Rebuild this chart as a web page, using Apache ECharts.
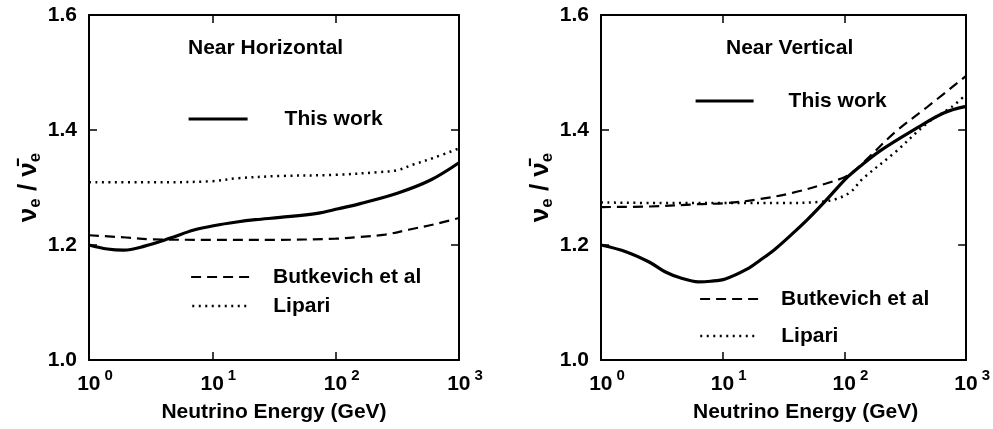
<!DOCTYPE html>
<html>
<head>
<meta charset="utf-8">
<script src="https://cdn.jsdelivr.net/npm/echarts@6/dist/echarts.min.js"></script>
<style>
html,body{margin:0;padding:0;background:#fff;}
#chart{width:993px;height:429px;}
</style>
</head>
<body>
<div id="chart"></div>
<script>
// ---- Data (energy in GeV, ratio nu_e / anti-nu_e) ----
const panelTitles = ['Near Horizontal', 'Near Vertical'];
const seriesNames = ['This work', 'Butkevich et al', 'Lipari'];
const yTicks = [1.0, 1.2, 1.4, 1.6];
const xTickExponents = [0, 1, 2, 3];

// Near Horizontal
const hThisE = [1, 1.41, 1.91, 2.82, 4.57, 7.08, 10.5, 15.8, 22.4, 35.5, 70.8, 105, 158, 316, 589, 1000];
const hThisR = [1.200, 1.193, 1.191, 1.198, 1.212, 1.226, 1.234, 1.240, 1.244, 1.248, 1.255, 1.263, 1.272, 1.290, 1.313, 1.343];
const hButE = [1, 2.0, 3.16, 10, 31.6, 100, 158, 251, 398, 631, 1000];
const hButR = [1.217, 1.213, 1.210, 1.209, 1.209, 1.211, 1.214, 1.218, 1.227, 1.236, 1.247];
const hLipE = [1, 3.16, 10, 15.8, 35.5, 100, 229, 316, 427, 631, 1000];
const hLipR = [1.309, 1.309, 1.311, 1.316, 1.320, 1.322, 1.327, 1.330, 1.340, 1.352, 1.368];

// Near Vertical
const vThisE = [1, 1.62, 2.51, 3.39, 4.47, 6.31, 7.94, 10.5, 15.8, 20.4, 26.3, 38.0, 50.1, 70.8, 100, 117, 191, 398, 661, 1000];
const vThisR = [1.200, 1.188, 1.170, 1.153, 1.143, 1.136, 1.137, 1.141, 1.158, 1.174, 1.191, 1.221, 1.245, 1.278, 1.313, 1.326, 1.362, 1.404, 1.430, 1.441];
const vButE = [1, 2.51, 6.31, 11.0, 20.4, 38.0, 70.8, 100, 117, 141, 263, 479, 1000];
const vButR = [1.266, 1.267, 1.271, 1.273, 1.280, 1.291, 1.307, 1.318, 1.327, 1.342, 1.397, 1.440, 1.494];
const vLipE = [1, 3.16, 10, 31.6, 63.1, 85.1, 112, 141, 263, 479, 759, 1000];
const vLipR = [1.274, 1.273, 1.273, 1.273, 1.275, 1.280, 1.292, 1.315, 1.362, 1.412, 1.440, 1.462];

function pairs(e, r) { return e.map((x, i) => [x, r[i]]); }

const FONT = '"Liberation Sans", Arial, Helvetica, sans-serif';
const BLACK = '#000';

const grids = [
  { left: 89, top: 15, width: 370, height: 345 },
  { left: 601, top: 15, width: 371, height: 345 }
];

function xAxisMain(g, nameShift) {
  return {
    type: 'log', logBase: 10, min: 1, max: 1000, gridIndex: g, position: 'bottom',
    axisLine: { show: true, lineStyle: { color: BLACK, width: 2 } },
    axisTick: { show: true, inside: true, length: 8, lineStyle: { color: BLACK, width: 1.5 } },
    minorTick: { show: false },
    splitLine: { show: false },
    axisLabel: {
      margin: 8,
      formatter: function (v) {
        const ex = Math.round(Math.log10(v));
        return '{p| }{b|10}{s|' + ex + '}';
      },
      rich: {
        p: { width: 12, fontSize: 14 },
        b: { fontSize: 21, fontWeight: 'bold', fontFamily: FONT, color: BLACK, lineHeight: 32 },
        s: { fontSize: 15, fontWeight: 'bold', fontFamily: FONT, color: BLACK, lineHeight: 15, verticalAlign: 'top', padding: [0, 0, 0, 4] }
      }
    },
    name: 'Neutrino Energy (GeV)',
    nameLocation: 'middle',
    nameGap: 42,
    nameTextStyle: { fontSize: 21, fontWeight: 'bold', fontFamily: FONT, color: BLACK, padding: [0, 0, 0, nameShift] }
  };
}
function xAxisTop(g) {
  return {
    type: 'log', logBase: 10, min: 1, max: 1000, gridIndex: g, position: 'top',
    axisLine: { show: true, lineStyle: { color: BLACK, width: 2 } },
    axisTick: { show: true, inside: true, length: 8, lineStyle: { color: BLACK, width: 1.5 } },
    axisLabel: { show: false }, splitLine: { show: false }
  };
}
function yAxisMain(g) {
  return {
    type: 'value', min: yTicks[0], max: yTicks[yTicks.length - 1], interval: 0.2, gridIndex: g, position: 'left',
    axisLine: { show: true, lineStyle: { color: BLACK, width: 2 } },
    axisTick: { show: true, inside: true, length: 8, lineStyle: { color: BLACK, width: 1.5 } },
    splitLine: { show: false },
    axisLabel: {
      margin: 12, fontSize: 21, fontWeight: 'bold', fontFamily: FONT, color: BLACK,
      formatter: v => v.toFixed(1)
    },
    name: '{v|ν}{e|e}{v| / }{v|ν̄}{e|e}',
    nameLocation: 'middle',
    nameGap: 44,
    nameRotate: 90,
    nameTextStyle: {
      rich: {
        v: { fontSize: 26, fontWeight: 'bold', fontFamily: FONT, color: BLACK, lineHeight: 30 },
        e: { fontSize: 17, fontWeight: 'bold', fontFamily: FONT, color: BLACK, lineHeight: 17, verticalAlign: 'bottom' }
      }
    }
  };
}
function yAxisRight(g) {
  return {
    type: 'value', min: yTicks[0], max: yTicks[yTicks.length - 1], interval: 0.2, gridIndex: g, position: 'right',
    axisLine: { show: true, lineStyle: { color: BLACK, width: 2 } },
    axisTick: { show: true, inside: true, length: 8, lineStyle: { color: BLACK, width: 1.5 } },
    axisLabel: { show: false }, splitLine: { show: false }
  };
}

const styles = [
  { width: 3.2, type: 'solid' },
  { width: 2.2, type: [10, 6] },
  { width: 2.5, type: [2, 4.5] }
];

function mkSeries(name, data, xi, yi, st) {
  return {
    type: 'line', name: name, data: data, xAxisIndex: xi, yAxisIndex: yi,
    symbol: 'none', showSymbol: false, smooth: 0.35,
    lineStyle: { color: BLACK, width: st.width, type: st.type },
    itemStyle: { color: BLACK },
    silent: true, animation: false
  };
}

const series = [
  mkSeries(seriesNames[0], pairs(hThisE, hThisR), 0, 0, styles[0]),
  mkSeries(seriesNames[1], pairs(hButE, hButR), 0, 0, styles[1]),
  mkSeries(seriesNames[2], pairs(hLipE, hLipR), 0, 0, styles[2]),
  mkSeries(seriesNames[0], pairs(vThisE, vThisR), 1, 1, styles[0]),
  mkSeries(seriesNames[1], pairs(vButE, vButR), 1, 1, styles[1]),
  mkSeries(seriesNames[2], pairs(vLipE, vLipR), 1, 1, styles[2])
];

function mkLegend(idx, left, top, w, gap) {
  return {
    show: true,
    data: [seriesNames[idx]], left: left, top: top, padding: 0,
    itemWidth: w, itemHeight: 20, selectedMode: false,
    lineStyle: { color: BLACK, width: styles[idx].width, type: styles[idx].type },
    itemStyle: { opacity: 0 },
    textStyle: { fontSize: 21, fontWeight: 'bold', fontFamily: FONT, color: BLACK, padding: [0, 0, 0, gap], lineHeight: 24 }
  };
}

const option = {
  animation: false,
  backgroundColor: '#fff',
  title: [
    { text: panelTitles[0], left: 188, top: 36, padding: 0,
      textStyle: { fontSize: 21, fontWeight: 'bold', fontFamily: FONT, color: BLACK, lineHeight: 24 } },
    { text: panelTitles[1], left: 726, top: 36, padding: 0,
      textStyle: { fontSize: 21, fontWeight: 'bold', fontFamily: FONT, color: BLACK, lineHeight: 24 } }
  ],
  legend: [
    mkLegend(0, 187, 107, 59, 32),
    mkLegend(1, 190, 265, 60, 17),
    mkLegend(2, 191, 294, 57, 19),
    mkLegend(0, 694, 89, 58, 30),
    mkLegend(1, 699, 287, 58, 18),
    mkLegend(2, 699, 324, 55, 21)
  ],
  grid: grids,
  xAxis: [xAxisMain(0, 0), xAxisMain(1, 44), xAxisTop(0), xAxisTop(1)],
  yAxis: [yAxisMain(0), yAxisMain(1), yAxisRight(0), yAxisRight(1)],
  series: series
};

const chart = echarts.init(document.getElementById('chart'), null, { renderer: 'canvas' });
chart.setOption(option);
</script>
</body>
</html>
